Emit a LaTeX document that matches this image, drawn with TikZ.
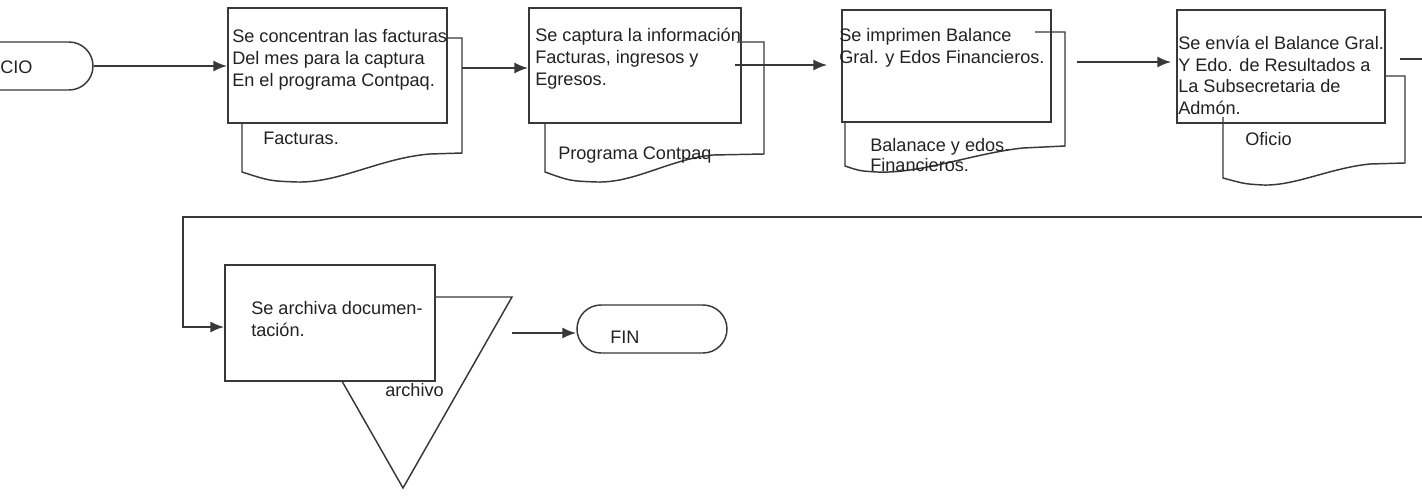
\documentclass[tikz,border=0pt]{standalone}
\usepackage{fontspec}
\setmainfont{Liberation Sans}
\usetikzlibrary{arrows.meta,fit}
\definecolor{ink}{HTML}{383838}
\definecolor{txtc}{HTML}{222222}
\begin{document}
\begin{tikzpicture}[x=0.75pt,y=-0.75pt,
  box/.style={draw=ink, line width=1.1pt, fill=white, inner sep=0pt},
  docline/.style={draw=ink, line width=1.1pt},
  term/.style={rectangle, rounded corners=18pt, draw=ink, line width=1.1pt, inner sep=0pt},
  conn/.style={draw=ink, line width=1.8pt, -{Latex[length=10.5pt,width=8.5pt]}},
  plain/.style={draw=ink, line width=1.8pt},
  txt/.style={font=\fontsize{13.6}{16.5}\selectfont, text=txtc, inner sep=0pt, align=left},
]
\useasboundingbox (0,0) rectangle (1422,496);
\clip (0,0) rectangle (1422,496);

% terminals
\node[term, fit={(-100,42) (93,90)}] (ini) {};
\node[txt, anchor=base west] (tini) at (0,73) {CIO};
\node[term, fit={(577,305) (727,353)}] (fin) {};
\node[txt, anchor=base west] (tfin) at (610,343) {FIN};

% archive triangle (behind box 5)
\draw[docline, fill=white] (294,297) -- (512,297) -- (403,488) -- cycle;

% process boxes
\node[box, fit={(228,8) (447,123)}] (b1) {};
\node[box, fit={(529,8) (741,123)}] (b2) {};
\node[box, fit={(842,10) (1051,122)}] (b3) {};
\node[box, fit={(1177,10) (1385,123)}] (b4) {};
\node[box, fit={(225,265) (435,381)}] (b5) {};

% document shapes
\draw[docline] (447,38) -- (462,38) -- (462,153) -- (430,154)
  .. controls (380,158) and (340,183) .. (297,182)
  .. controls (270,181) .. (242,172) -- (242,123);
\draw[docline] (737,42) -- (764,42) -- (764,154) -- (713,155)
  .. controls (670,159) and (635,183) .. (597,182)
  .. controls (570,181) .. (545,172) -- (545,123);
\draw[docline] (1035,32) -- (1065,32) -- (1065,146) -- (1023,148)
  .. controls (975,153) and (920,174) .. (877,172)
  .. controls (860,171) .. (845,166) -- (845,122);
\draw[docline] (1385,76) -- (1405,76) -- (1405,163) -- (1370,164)
  .. controls (1330,168) and (1295,186) .. (1263,185)
  .. controls (1245,184) .. (1223,178) -- (1223,117);

% box texts
\node[txt, anchor=north west] (t1) at (232,29) {Se concentran las facturas\\Del mes para la captura\\En el programa Contpaq.};
\node[txt, anchor=north west] (t2) at (535,28) {Se captura la información\\Facturas, ingresos y\\Egresos.};
\node[txt, anchor=north west] (t3) at (839,28) {Se imprimen Balance\\Gral. y Edos Financieros.};
\node[txt, anchor=north west, font=\fontsize{13.6}{16.1}\selectfont] (t4) at (1178,36) {Se envía el Balance Gral.\\Y Edo. de Resultados a\\La Subsecretaria de\\Admón.};
\node[txt, anchor=north west] (t5) at (251,301) {Se archiva documen-\\tación.};

% document labels
\node[txt, anchor=base west] (l1) at (263,144) {Facturas.};
\node[txt, anchor=base west] (l2) at (558,159) {Programa Contpaq};
\node[txt, anchor=north west, font=\fontsize{13.6}{15}\selectfont] (l3) at (870,138) {Balanace y edos.\\Financieros.};
\node[txt, anchor=base west] (l4) at (1245,145) {Oficio};
\node[txt, anchor=base west] (l5) at (385,396) {archivo};

% connectors
\draw[conn] (ini.east) -- (ini.east -| b1.west);
\coordinate (o1) at (462,68);
\draw[conn] (o1) -- (o1 -| b2.west);
\coordinate (o2) at (735,65);
\draw[conn, shorten >=10.5pt] (o2) -- (o2 -| b3.west);
\coordinate (o3) at (1077,62);
\draw[conn, shorten >=3.75pt] (o3) -- (o3 -| b4.west);
\coordinate (o4) at (1400,59);
\coordinate (e1) at (1422,59);
\draw[plain] (o4) -- (e1);
\coordinate (e2) at (1422,217);
\coordinate (k1) at (183,217);
\coordinate (in5) at (b5.west |- 0,327);
\draw[conn] (e2) -- (k1) |- (in5);
\coordinate (o5) at (512,333);
\draw[conn] (o5) -- (o5 -| fin.west);
\end{tikzpicture}
\end{document}
